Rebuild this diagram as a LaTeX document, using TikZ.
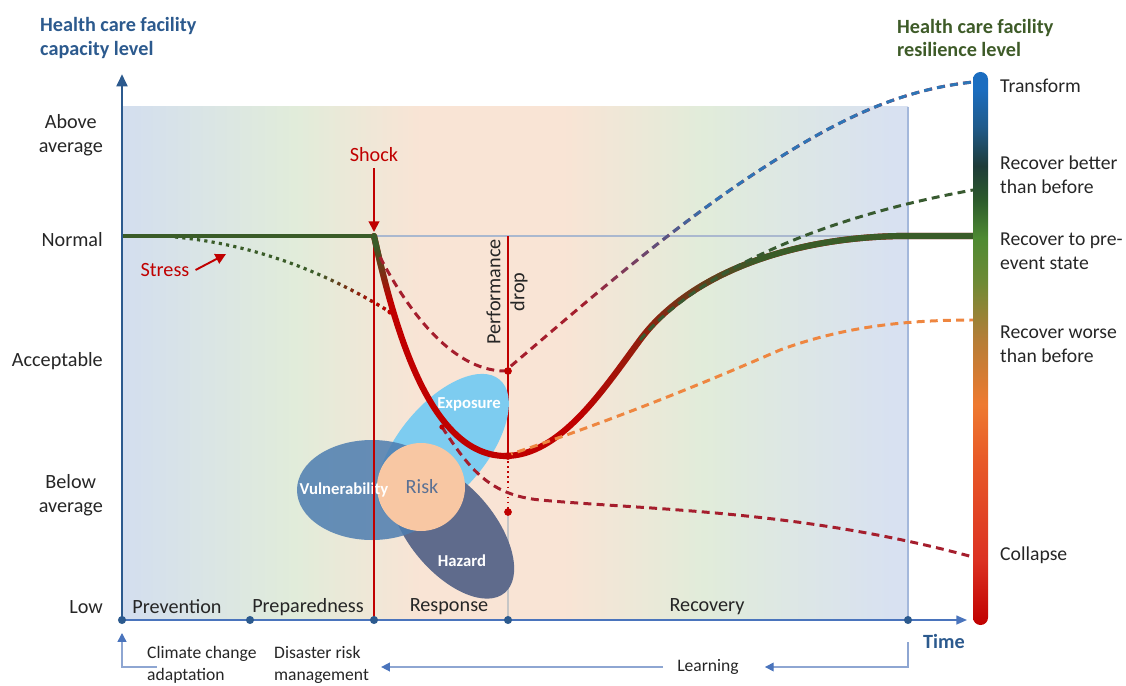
\documentclass[tikz,border=0pt]{standalone}
\usepackage{fontspec}
\setmainfont{Carlito}
\usepackage{xcolor}
\usetikzlibrary{arrows.meta,positioning,calc,fadings}

\definecolor{axisblue}{HTML}{2C5A8E}
\definecolor{timeblue}{HTML}{4A74BC}
\definecolor{linkblue}{HTML}{8EA6D2}
\definecolor{titlegreen}{HTML}{3E5B28}
\definecolor{normgreen}{HTML}{3A5C28}
\definecolor{shockred}{HTML}{C00000}
\definecolor{dashred}{HTML}{A51E2D}
\definecolor{transblue}{HTML}{2E75B6}
\definecolor{bettergreen}{HTML}{385A30}
\definecolor{worseorange}{HTML}{EE8640}
\definecolor{vulnblue}{HTML}{4D7DB0}
\definecolor{expoblue}{HTML}{7DCCF0}
\definecolor{hazblue}{HTML}{5F6B8C}
\definecolor{riskpeach}{HTML}{F8C7A3}
\definecolor{risktext}{HTML}{5B7194}
\definecolor{normline}{HTML}{AAB8CF}
\definecolor{bgblue}{HTML}{D3DEEF}
\definecolor{bggreen}{HTML}{E1ECDA}
\definecolor{bgpeach}{HTML}{F9E4D5}
\definecolor{bgblueright}{HTML}{D8E1F1}
\definecolor{barA}{HTML}{C00000}
\definecolor{barB}{HTML}{DC3222}
\definecolor{barC}{HTML}{E85A28}
\definecolor{barD}{HTML}{EE7A30}
\definecolor{barE}{HTML}{B37E37}
\definecolor{barF}{HTML}{6E8A35}
\definecolor{barG}{HTML}{4E8A32}
\definecolor{barH}{HTML}{2C5A2C}
\definecolor{barI}{HTML}{1E3B38}
\definecolor{barJ}{HTML}{1F5A8A}
\definecolor{barK}{HTML}{1B6DC0}

% background of the phases
\pgfdeclarehorizontalshading{phaseshade}{100bp}{color(0bp)=(bgblue); color(25bp)=(bgblue);
  color(36bp)=(bggreen); color(44bp)=(bgpeach); color(53bp)=(bgpeach); color(62bp)=(bggreen);
  color(74bp)=(bgblueright); color(100bp)=(bgblueright)}
% resilience scale
\pgfdeclareverticalshading{resshade}{100bp}{color(0bp)=(barA); color(25bp)=(barA);
  color(31bp)=(barB); color(40bp)=(barC); color(45bp)=(barD); color(51bp)=(barE);
  color(56bp)=(barF); color(60bp)=(barG); color(63.5bp)=(barH); color(66.5bp)=(barI);
  color(70bp)=(barJ); color(73.5bp)=(barK); color(100bp)=(barK)}
% colour changes along the curves
\pgfdeclarehorizontalshading{recovfadeshade}{100bp}{color(0bp)=(black); color(33bp)=(black);
  color(52bp)=(white); color(100bp)=(white)}
\pgfdeclarefading{recovfade}{\pgfuseshading{recovfadeshade}}
\pgfdeclarehorizontalshading{transfadeshade}{100bp}{color(0bp)=(black); color(42bp)=(black);
  color(53bp)=(white); color(100bp)=(white)}
\pgfdeclarefading{transfade}{\pgfuseshading{transfadeshade}}
\pgfdeclarehorizontalshading{stressfadeshade}{100bp}{color(0bp)=(black); color(58bp)=(black);
  color(72bp)=(white); color(100bp)=(white)}
\pgfdeclarefading{stressfade}{\pgfuseshading{stressfadeshade}}
\pgfdeclareverticalshading{dropfadeshade}{100bp}{color(0bp)=(black); color(60bp)=(black);
  color(72bp)=(white); color(100bp)=(white)}
\pgfdeclarefading{dropfade}{\pgfuseshading{dropfadeshade}}

\newcommand\stresscurve{(175,237) .. controls (260,245) and (330,275) .. (390,312)}
\newcommand\dropcurve{(374,236) .. controls (395,330) and (430,455) .. (505,456)}
\newcommand\recovcurve{(505,456) .. controls (560,456) and (603,390) .. (640,340)
  .. controls (685,279) and (780,238) .. (900,236) -- (973,236)}
\newcommand\transcurve{(380,257) .. controls (405,305) and (450,371) .. (505,371)
  .. controls (560,325) and (660,235) .. (760,170) .. controls (840,118) and (900,90) .. (973,82)}

\begin{document}
\begin{tikzpicture}[x=0.02cm, y=-0.02cm,
    txt/.style={font=\fontsize{11.5}{13.6}\selectfont, text=black!85},
    lvl/.style={txt, align=center, anchor=east},
    res/.style={font=\fontsize{11.2}{13.4}\selectfont, text=black!85, align=left, anchor=west},
    note/.style={font=\fontsize{10}{12.2}\selectfont, text=black!85, align=left, anchor=west},
    heading/.style={font=\fontsize{11.5}{13.6}\selectfont\bfseries, align=left, anchor=west},
    blob/.style={font=\fontsize{9.5}{11}\selectfont\bfseries, text=white},
    tdot/.style={circle, fill=axisblue, inner sep=0pt, minimum size=4.6pt},
    rdot/.style={circle, fill=shockred, inner sep=0pt, minimum size=4.4pt},
    thickcurve/.style={line width=3.5pt, line cap=round},
    dashcurve/.style={line width=1.7pt, dash pattern=on 4.5pt off 3pt},
    dotcurve/.style={line width=1.8pt, dash pattern=on 1.8pt off 2.4pt},
    linkarrow/.style={linkblue, line width=0.8pt, -{Triangle[length=5pt,width=5pt,color=timeblue]}},
    redarrow/.style={shockred, line width=1.1pt, -{Triangle[length=6pt,width=6pt]}}
]
    \useasboundingbox (0,0) rectangle (1126,686);

    % Phases background
    \shade[shading=phaseshade] (122,107) rectangle (908,620);
    \draw[normline, line width=0.6pt] (122,236) -- (908,236);
    \draw[linkblue!80, line width=0.6pt] (908,107) -- (908,620);

    % Performance drop line
    \draw[shockred, line width=0.9pt] (508,236) -- (508,456);
    \draw[shockred, line width=0.9pt, dotted] (508,456) -- (508,512);
    \draw[gray!45, line width=0.6pt] (508,512) -- (508,620);

    % Risk
    \fill[expoblue, rotate around={50:(443,447)}] (443,447) ellipse [x radius=88, y radius=44];
    \fill[hazblue, rotate around={-50:(452,530)}] (452,530) ellipse [x radius=82, y radius=43];
    \fill[vulnblue, fill opacity=0.85] (372,490) ellipse [x radius=75, y radius=50];
    \fill[riskpeach] (421,487) circle [radius=44];
    \node[blob] (expo) at (469,404) {Exposure};
    \node[blob] (vuln) at (344,490) {Vulnerability};
    \node[blob] (haz) at (462,561) {Hazard};
    \node[txt, text=risktext] (risk) at (422,487) {Risk};

    % Shock line
    \draw[shockred, line width=1.5pt] (374,236) -- (374,620);

    % Stress
    \draw[normgreen, dotcurve] \stresscurve;
    \draw[shockred, dotcurve, path fading=stressfade] \stresscurve;

    % Capacity curve
    \draw[normgreen, line width=2.8pt] (122,236) -- (374,236);
    \draw[shockred, thickcurve] \dropcurve;
    \draw[normgreen, thickcurve, path fading=dropfade] \dropcurve;
    \draw[shockred, thickcurve] \recovcurve;
    \draw[normgreen, thickcurve, path fading=recovfade] \recovcurve;

    % Outcomes
    \draw[dashred, dashcurve] \transcurve;
    \draw[transblue, dashcurve, path fading=transfade] \transcurve;
    \draw[bettergreen, dashcurve] (640,340) .. controls (680,292) and (780,225) .. (973,190);
    \draw[worseorange, dashcurve] (505,456) .. controls (600,425) and (700,385) .. (780,350)
        .. controls (840,328) and (900,320) .. (973,320);
    \draw[dashred, dashcurve] (442,427) .. controls (470,470) and (490,495) .. (540,500)
        .. controls (650,510) and (800,510) .. (973,557);

    \node[rdot] (pmin) at (508,371) {};
    \node[rdot] (pbot) at (508,456) {};
    \node[rdot] (pcol) at (508,512) {};
    \node[rdot, minimum size=3pt] (pstress) at (390,312) {};
    \node[rdot, minimum size=3pt] (pfork) at (442,427) {};

    % Axes
    \coordinate (origin) at (122,620);
    \coordinate (ytop) at (122,74);
    \coordinate (tend) at (967,620);
    \draw[timeblue, line width=0.9pt, -{Triangle[length=6pt,width=5pt]}] (origin) -- (tend);
    \draw[axisblue, line width=1.7pt, -{Triangle[length=7pt,width=6pt]}] (origin) -- (ytop);
    \foreach \x/\n in {122/t0, 250/t1, 374/t2, 508/t3, 908/t4}
        \node[tdot] (\n) at (\x,620) {};

    % Resilience scale
    \shade[shading=resshade, rounded corners=4.2pt] (973,72) rectangle (988,625);

    % Titles
    \node[heading, text=axisblue] (ytitle) at (34,38) {Health care facility\\capacity level};
    \node[heading, text=titlegreen] (rtitle) at (891,38) {Health care facility\\resilience level};

    % Levels
    \node[lvl] (above) at (109,135) {Above\\average};
    \node[lvl] (normal) at (109,240) {Normal};
    \node[lvl] (accept) at (109,361) {Acceptable};
    \node[lvl] (below) at (109,495) {Below\\average};
    \node[lvl] (low) at (109,607) {Low};

    % Phases
    \node[txt] (prev) at (177,607) {Prevention};
    \node[txt] (prep) at (308,607) {Preparedness};
    \node[txt] (resp) at (449,607) {Response};
    \node[txt] (recov) at (707,607) {Recovery};

    % Outcomes
    \node[res] (transform) at (994,86) {Transform};
    \node[res] (better) at (994,175) {Recover better\\than before};
    \node[res] (pre) at (994,251) {Recover to pre-\\event state};
    \node[res] (worse) at (994,344) {Recover worse\\than before};
    \node[res] (collapse) at (994,555) {Collapse};

    % Events
    \node[txt, text=shockred] (shock) at (374,155) {Shock};
    \coordinate (shockpt) at (374,232);
    \draw[redarrow] (shock.south) -- (shockpt);
    \node[txt, text=shockred] (stress) at (165,270) {Stress};
    \coordinate (stresspt) at (226,254);
    \draw[redarrow] (stress.east) -- (stresspt);
    \node[txt, rotate=90, align=center] (perf) at (507,292) {Performance\\drop};

    % Bottom
    \node[heading, anchor=center, text=axisblue] (time) at (944,641) {Time};
    \node[note] (cca) at (141,665) {Climate change\\adaptation};
    \node[note] (drm) at (268,665) {Disaster risk\\management};
    \node[note, anchor=center] (learn) at (708,667) {Learning};
    \draw[linkarrow] ($(cca.west)+(16,2)$) -| ($(t0)+(0,13)$);
    \draw[linkarrow] ($(t4)+(0,22)$) |- ($(learn.east)+(20,0)$);
    \draw[linkarrow] ($(learn.west)+(-8,0)$) -- ($(drm.east)+(6,2)$);
\end{tikzpicture}
\end{document}
